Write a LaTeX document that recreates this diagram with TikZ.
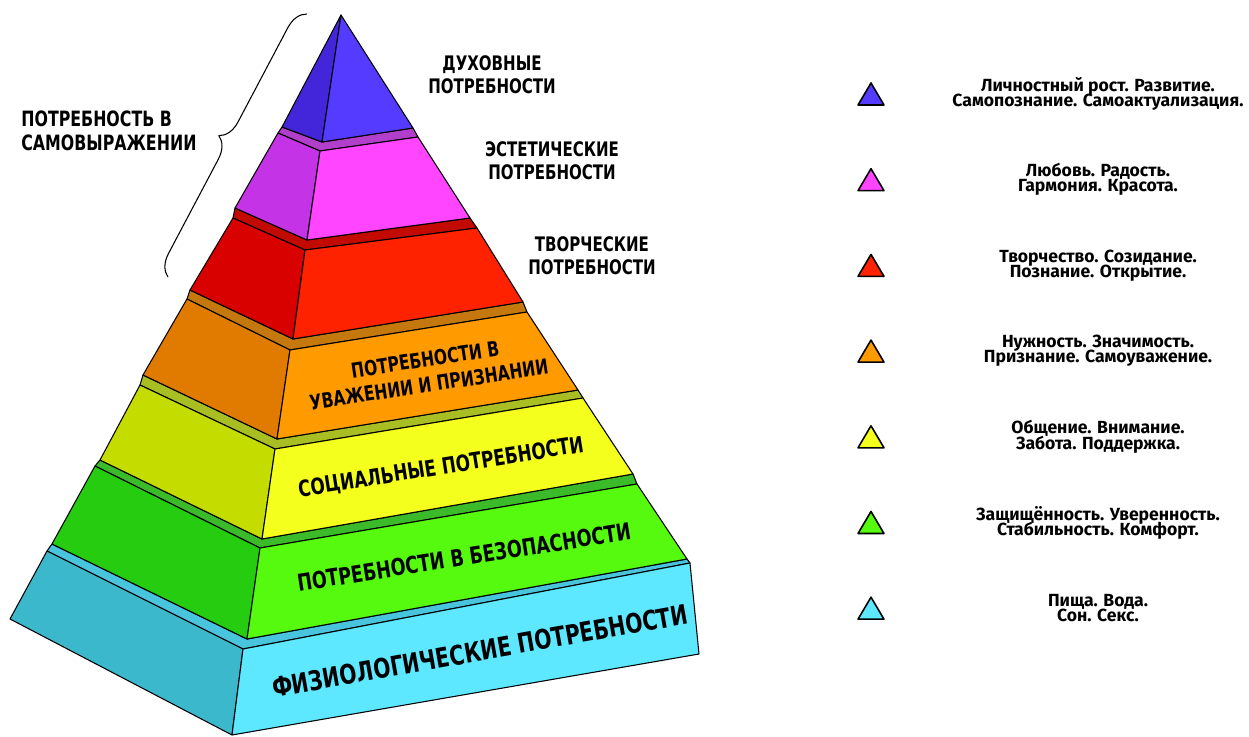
\documentclass[tikz,border=0pt]{standalone}
\usepackage{fontspec}
\setmainfont{Fira Sans}
\newfontfamily\headfont{DejaVu Sans}
\newcommand{\squeeze}[1]{\scalebox{0.75}[1]{#1}}
\usepackage{tikz}
\usetikzlibrary{decorations.pathreplacing}

\definecolor{bluL}{HTML}{4326D9}
\definecolor{bluF}{HTML}{553BFF}
\definecolor{magL}{HTML}{C433E6}
\definecolor{magF}{HTML}{FF45FF}
\definecolor{magT}{HTML}{B23FCB}
\definecolor{redL}{HTML}{D90000}
\definecolor{redF}{HTML}{FF2200}
\definecolor{redT}{HTML}{C30A00}
\definecolor{oraL}{HTML}{E07B00}
\definecolor{oraF}{HTML}{FF9A00}
\definecolor{oraT}{HTML}{C4780E}
\definecolor{yelL}{HTML}{C5DC00}
\definecolor{yelF}{HTML}{F4FF1E}
\definecolor{yelT}{HTML}{A8BE22}
\definecolor{grnL}{HTML}{26CC10}
\definecolor{grnF}{HTML}{55FA0E}
\definecolor{grnT}{HTML}{3BBB2A}
\definecolor{cyaL}{HTML}{3CB8CC}
\definecolor{cyaF}{HTML}{5DE8FF}
\definecolor{cyaT}{HTML}{48C4DC}

\begin{document}
\begin{tikzpicture}[x=0.02cm, y=-0.02cm, line join=round,
    face/.style={draw=black, line width=0.6pt},
    headlbl/.style={font=\headfont\bfseries\fontsize{11.4}{13.3}\selectfont, align=center, inner sep=0pt},
    layerlbl/.style={align=center, inner sep=0pt},
    legtxt/.style={font=\bfseries\fontsize{10}{8.6}\selectfont, align=center, inner sep=0pt,
        execute at begin node={\setlength{\lineskiplimit}{-6pt}\setlength{\lineskip}{0pt}}}]
    \useasboundingbox (0,0) rectangle (1249,737);

    \coordinate (lt1) at (47,551);  \coordinate (ft1) at (243,649); \coordinate (rt1) at (690,563);
    \coordinate (lb1) at (10,619);  \coordinate (fb1) at (232,735); \coordinate (rb1) at (699,654);
    \coordinate (lt2) at (95,466);  \coordinate (ft2) at (260,548); \coordinate (rt2) at (637,484);
    \coordinate (lb2) at (52,544);  \coordinate (fb2) at (247,639); \coordinate (rb2) at (687,559);
    \coordinate (lt3) at (140,385); \coordinate (ft3) at (275,449); \coordinate (rt3) at (583,398);
    \coordinate (lb3) at (100,460); \coordinate (fb3) at (262,539); \coordinate (rb3) at (633,474);
    \coordinate (lt4) at (187,299); \coordinate (ft4) at (290,350); \coordinate (rt4) at (527,312);
    \coordinate (lb4) at (143,375); \coordinate (fb4) at (277,439); \coordinate (rb4) at (578,390);
    \coordinate (lt5) at (233,218); \coordinate (ft5) at (305,250); \coordinate (rt5) at (477,228);
    \coordinate (lb5) at (190,290); \coordinate (fb5) at (293,339); \coordinate (rb5) at (523,302);
    \coordinate (lt6) at (278,133); \coordinate (ft6) at (320,151); \coordinate (rt6) at (418,137);
    \coordinate (lb6) at (235,208); \coordinate (fb6) at (307,240); \coordinate (rb6) at (470,218);
    \coordinate (apex) at (341,15);
    \coordinate (lb7) at (282,127); \coordinate (fb7) at (322,142); \coordinate (rb7) at (413,128);

    \foreach \i/\cl/\cf/\ct in {1/cyaL/cyaF/cyaT, 2/grnL/grnF/grnT, 3/yelL/yelF/yelT,
                               4/oraL/oraF/oraT, 5/redL/redF/redT, 6/magL/magF/magT} {
        \pgfmathtruncatemacro{\j}{\i+1}
        \filldraw[face, fill=\ct] (lt\i) -- (ft\i) -- (rt\i) -- (rb\j) -- (fb\j) -- (lb\j) -- cycle;
        \filldraw[face, fill=\cl] (lt\i) -- (ft\i) -- (fb\i) -- (lb\i) -- cycle;
        \filldraw[face, fill=\cf] (ft\i) -- (rt\i) -- (rb\i) -- (fb\i) -- cycle;
    }
    \filldraw[face, fill=bluL] (apex) -- (fb7) -- (lb7) -- cycle;
    \filldraw[face, fill=bluF] (apex) -- (rb7) -- (fb7) -- cycle;

    \node[layerlbl, font=\headfont\bfseries\fontsize{11.8}{14.5}\selectfont, rotate=8.6] (esteem) at (427,372) {\squeeze{ПОТРЕБНОСТИ В}\\\squeeze{УВАЖЕНИИ И ПРИЗНАНИИ}};
    \node[layerlbl, font=\headfont\bfseries\fontsize{12.8}{14}\selectfont, rotate=9] (social) at (441,468) {\squeeze{СОЦИАЛЬНЫЕ ПОТРЕБНОСТИ}};
    \node[layerlbl, font=\headfont\bfseries\fontsize{13.3}{15}\selectfont, rotate=8.9] (safety) at (464,557) {\squeeze{ПОТРЕБНОСТИ В БЕЗОПАСНОСТИ}};
    \node[layerlbl, font=\headfont\bfseries\fontsize{15.4}{17}\selectfont, rotate=10.1] (physio) at (480,651) {\squeeze{ФИЗИОЛОГИЧЕСКИЕ ПОТРЕБНОСТИ}};

    \node[headlbl] (spirit) at (492,75) {\squeeze{ДУХОВНЫЕ}\\\squeeze{ПОТРЕБНОСТИ}};
    \node[headlbl] (aesth) at (552,161) {\squeeze{ЭСТЕТИЧЕСКИЕ}\\\squeeze{ПОТРЕБНОСТИ}};
    \node[headlbl] (creat) at (592,256) {\squeeze{ТВОРЧЕСКИЕ}\\\squeeze{ПОТРЕБНОСТИ}};
    \node[headlbl, anchor=west, align=left, font=\headfont\bfseries\fontsize{12}{13.3}\selectfont] (selfexpr) at (21,131) {\squeeze{ПОТРЕБНОСТЬ В}\\\squeeze{САМОВЫРАЖЕНИИ}};

    \coordinate (brlow) at (168,277);
    \coordinate (brtop) at (307,14);
    \draw[decorate, decoration={brace, amplitude=12pt}, line width=0.6pt] (brlow) -- (brtop);

    \foreach \k/\col/\txt in {1/bluF/{Личностный рост. Развитие.\\Самопознание. Самоактуализация.},
                              2/magF/{Любовь. Радость.\\Гармония. Красота.},
                              3/redF/{Творчество. Созидание.\\Познание. Открытие.},
                              4/oraF/{Нужность. Значимость.\\Признание. Самоуважение.},
                              5/yelF/{Общение. Внимание.\\Забота. Поддержка.},
                              6/grnF/{Защищённость. Уверенность.\\Стабильность. Комфорт.},
                              7/cyaF/{Пища. Вода.\\Сон. Секс.}} {
        \pgfmathsetmacro{\yb}{105+85.7*(\k-1)}
        \pgfmathsetmacro{\yt}{\yb-22}
        \pgfmathsetmacro{\ym}{\yb-11}
        \filldraw[face, line width=0.9pt, fill=\col] (858,\yb) -- (884,\yb) -- (871,\yt) -- cycle;
        \node[legtxt] (leg\k) at (1098,\ym) {\txt};
    }
\end{tikzpicture}
\end{document}
